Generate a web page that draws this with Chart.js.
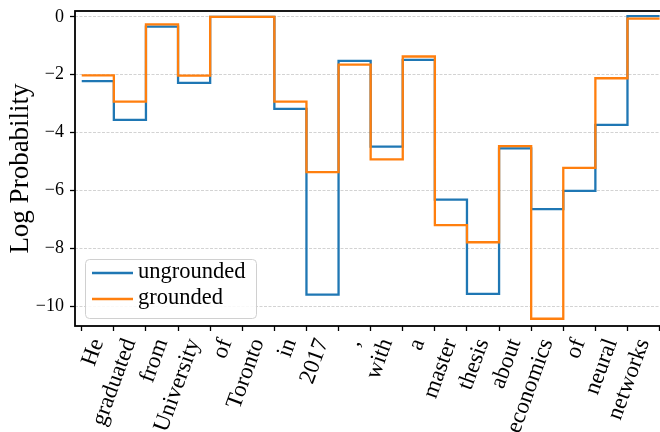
<!DOCTYPE html>
<html>
<head>
<meta charset="utf-8">
<script src="https://cdn.jsdelivr.net/npm/chart.js@4"></script>
<style>
  html, body { margin: 0; padding: 0; background: #fff; overflow: hidden; }
  #wrap { width: 666px; height: 432px; }
</style>
</head>
<body>
<div id="wrap"><canvas id="logChart" width="666" height="432"></canvas></div>
<script>
// tokens of the sentence, one step each
const tokens = ['He', 'graduated', 'from', 'University', 'of', 'Toronto', 'in', '2017', ',',
    'with', 'a', 'master', 'thesis', 'about', 'economics', 'of', 'neural', 'networks'];

// log probabilities
const ungrounded = [-2.22, -3.56, -0.34, -2.28, 0.0, 0.0, -3.18, -9.59, -1.52,
    -4.48, -1.49, -6.31, -9.56, -4.54, -6.64, -6.01, -3.73, 0.02];
const grounded = [-2.02, -2.93, -0.26, -2.03, 0.0, 0.0, -2.93, -5.36, -1.65,
    -4.92, -1.37, -7.19, -7.78, -4.46, -10.42, -5.21, -2.12, -0.06];

const yTicks = [-10, -8, -6, -4, -2, 0];

const FONT = "'Liberation Serif', 'Times New Roman', serif";

// step 'post': each value holds until the next token, last one closed at the end
function toSteps(values) {
    const pts = values.map((v, i) => ({ x: i, y: v }));
    pts.push({ x: values.length, y: values[values.length - 1] });
    return pts;
}

// frame round the plot area, like matplotlib spines
const framePlugin = {
    id: 'frame',
    afterDraw(chart) {
        const { ctx, chartArea: a } = chart;
        ctx.save();
        ctx.strokeStyle = '#000';
        ctx.lineWidth = 1.8;
        ctx.strokeRect(a.left, a.top, a.right - a.left, a.bottom - a.top);
        ctx.restore();
    }
};

// legend box in the lower left corner
const legendPlugin = {
    id: 'boxLegend',
    afterDraw(chart) {
        const ctx = chart.ctx;
        const x = 85, y = 259, w = 171, h = 59, r = 4;
        ctx.save();
        ctx.beginPath();
        ctx.roundRect(x + 0.5, y + 0.5, w, h, r);
        ctx.fillStyle = 'rgba(255,255,255,0.85)';
        ctx.fill();
        ctx.strokeStyle = '#d0d0d0';
        ctx.lineWidth = 1;
        ctx.stroke();

        ctx.font = `22.5px ${FONT}`;
        ctx.textBaseline = 'middle';
        ctx.fillStyle = '#000';
        chart.data.datasets.forEach((ds, i) => {
            const ly = 273 + i * 26;
            ctx.beginPath();
            ctx.moveTo(92, ly);
            ctx.lineTo(133, ly);
            ctx.strokeStyle = ds.borderColor;
            ctx.lineWidth = 2.3;
            ctx.stroke();
            ctx.fillText(ds.label, 138, ly - 1);
        });
        ctx.restore();
    }
};

const ctx = document.getElementById('logChart').getContext('2d');
new Chart(ctx, {
    type: 'line',
    data: {
        datasets: [
            {
                label: 'ungrounded',
                data: toSteps(ungrounded),
                borderColor: '#1f77b4',
                borderWidth: 2.3,
                stepped: 'before',
                pointRadius: 0,
                fill: false,
                order: 2
            },
            {
                label: 'grounded',
                data: toSteps(grounded),
                borderColor: '#ff7f0e',
                borderWidth: 2.3,
                stepped: 'before',
                pointRadius: 0,
                fill: false,
                order: 1
            }
        ]
    },
    options: {
        responsive: false,
        animation: false,
        layout: { padding: { top: 11, left: 0, right: 0, bottom: 0 } },
        plugins: {
            legend: { display: false },
            tooltip: { enabled: false }
        },
        scales: {
            x: {
                type: 'linear',
                min: -0.21,
                max: 18.2,
                afterBuildTicks: (scale) => {
                    const ticks = [];
                    for (let i = 0; i <= tokens.length * 2; i++) {
                        ticks.push({ value: i / 2 });
                    }
                    scale.ticks = ticks;
                },
                afterFit: (scale) => {
                    scale.height = 106;
                    // labels may run off the canvas, as in the original
                    scale.paddingLeft = 0;
                    scale.paddingRight = 0;
                },
                border: { display: false },
                grid: {
                    drawOnChartArea: false,
                    tickLength: 5,
                    tickWidth: 1.3,
                    tickColor: (c) => (c.tick && Number.isInteger(c.tick.value)) ? '#000' : 'rgba(0,0,0,0)'
                },
                ticks: {
                    autoSkip: false,
                    minRotation: 70,
                    maxRotation: 70,
                    padding: 4,
                    color: '#000',
                    font: { family: FONT, size: 23 },
                    callback: (v) => Number.isInteger(v) ? '' : tokens[Math.floor(v)]
                }
            },
            y: {
                min: -10.67,
                max: 0.2,
                afterBuildTicks: (scale) => {
                    scale.ticks = yTicks.map(v => ({ value: v }));
                },
                afterFit: (scale) => {
                    scale.width = 75;
                    scale.paddingTop = 0;
                    scale.paddingBottom = 0;
                },
                border: { display: false, dash: [3, 1.5] },
                grid: {
                    color: '#c8c8c8',
                    lineWidth: 0.8,
                    tickLength: 5,
                    tickWidth: 1.3,
                    tickColor: '#000'
                },
                ticks: {
                    padding: 6,
                    color: '#000',
                    font: { family: FONT, size: 18 },
                    callback: (v) => v === 0 ? '0' : '\u2212' + Math.abs(v)
                },
                title: {
                    display: true,
                    text: 'Log Probability',
                    color: '#000',
                    font: { family: FONT, size: 27 },
                    padding: { top: 5, bottom: 0 }
                }
            }
        }
    },
    plugins: [framePlugin, legendPlugin]
});
</script>
</body>
</html>
